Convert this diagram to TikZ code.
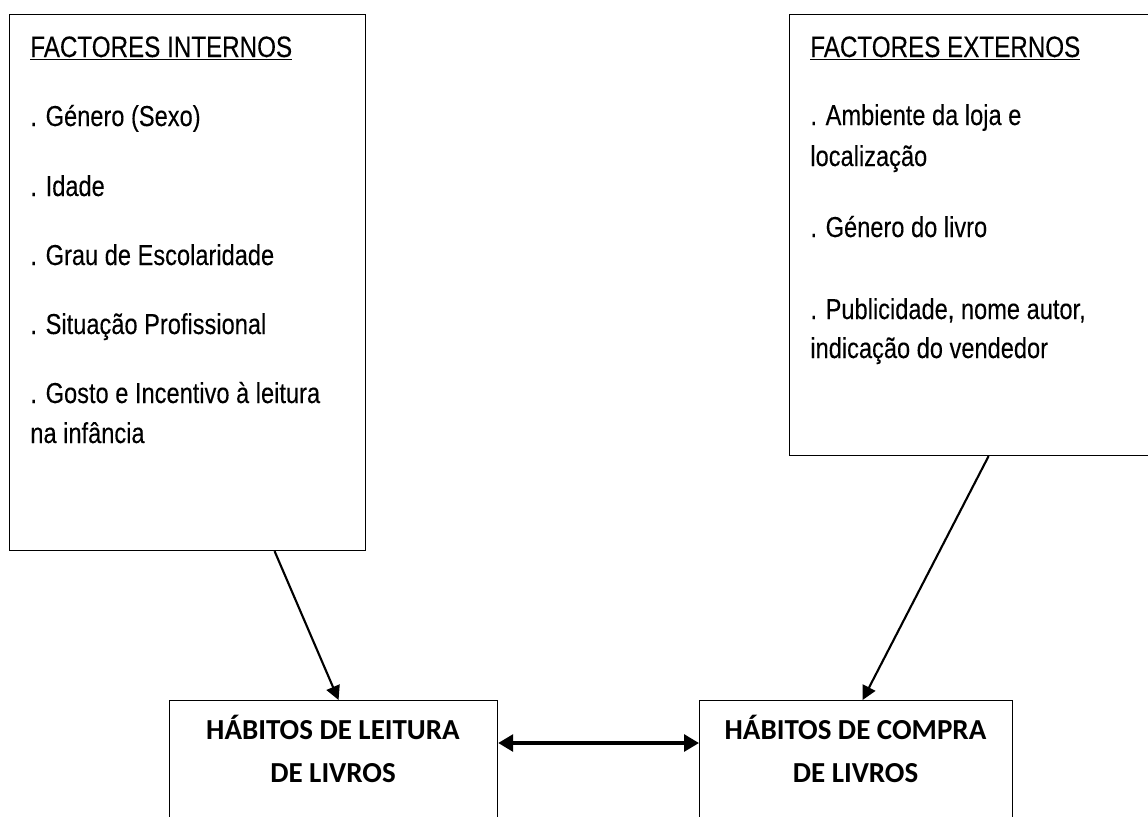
\documentclass[tikz,border=0pt]{standalone}
\usepackage{fontspec}
\setmainfont{Liberation Sans}[FakeStretch=0.82,FakeBold=0.15]
\newfontfamily\calibri{Carlito}
\usetikzlibrary{arrows.meta}

\tikzset{
  caixa/.style={draw, line width=0.7pt, rectangle, anchor=north west, inner sep=0pt},
  item/.style={anchor=base west, inner sep=0pt, font=\fontsize{16.4}{20}\selectfont},
  titulo/.style={item, font=\fontsize{16.8}{20}\selectfont},
  habito/.style={anchor=base, inner sep=0pt, align=center, font=\calibri\bfseries\fontsize{16.5}{24.4}\selectfont},
  seta/.style={-{Triangle[length=8pt,width=8pt]}, line width=1.2pt},
  dupla/.style={{Triangle[length=8.5pt,width=9.5pt]}-{Triangle[length=8.5pt,width=9.5pt]}, line width=2pt}
}

\begin{document}
\begin{tikzpicture}[x=0.02cm,y=-0.02cm]
  \useasboundingbox (0,0) rectangle (1148,816);
  %internos
  \node[caixa, minimum width=7.12cm, minimum height=10.72cm] (internos) at (9,14) {};
  \node[titulo] (int0) at (30,57) {\underline{FACTORES INTERNOS}};
  \node[item] (int1) at (30,126) {. Género (Sexo)};
  \node[item] (int2) at (30,196) {. Idade};
  \node[item] (int3) at (30,265) {. Grau de Escolaridade};
  \node[item] (int4) at (30,334) {. Situação Profissional};
  \node[item] (int5) at (30,403) {. Gosto e Incentivo à leitura};
  \node[item] (int6) at (30,443) {na infância};
  %externos
  \node[caixa, minimum width=7.22cm, minimum height=8.82cm] (externos) at (789,14) {};
  \node[titulo] (ext0) at (810,57) {\underline{FACTORES EXTERNOS}};
  \node[item] (ext1) at (810,125) {. Ambiente da loja e};
  \node[item] (ext2) at (810,166) {localização};
  \node[item] (ext3) at (810,237) {. Género do livro};
  \node[item] (ext4) at (810,319) {. Publicidade, nome autor,};
  \node[item] (ext5) at (810,358) {indicação do vendedor};
  %habitos
  \node[caixa, minimum width=6.56cm, minimum height=2.6cm] (leitura) at (169,700) {};
  \node[habito] (leituratxt) at (333,782) {HÁBITOS DE LEITURA\\DE LIVROS};
  \node[caixa, minimum width=6.26cm, minimum height=2.6cm] (compra) at (699,700) {};
  \node[habito] (compratxt) at (855.5,782) {HÁBITOS DE COMPRA\\DE LIVROS};
  %setas
  \draw[seta] ([xshift=1.74cm]internos.south) -- ([xshift=0.1cm]leitura.north);
  \draw[seta] ([xshift=0.37cm]externos.south) -- ([xshift=0.13cm]compra.north);
  \draw[dupla] ([yshift=-0.86cm]leitura.north east) -- ([yshift=-0.86cm]compra.north west);
\end{tikzpicture}
\end{document}
